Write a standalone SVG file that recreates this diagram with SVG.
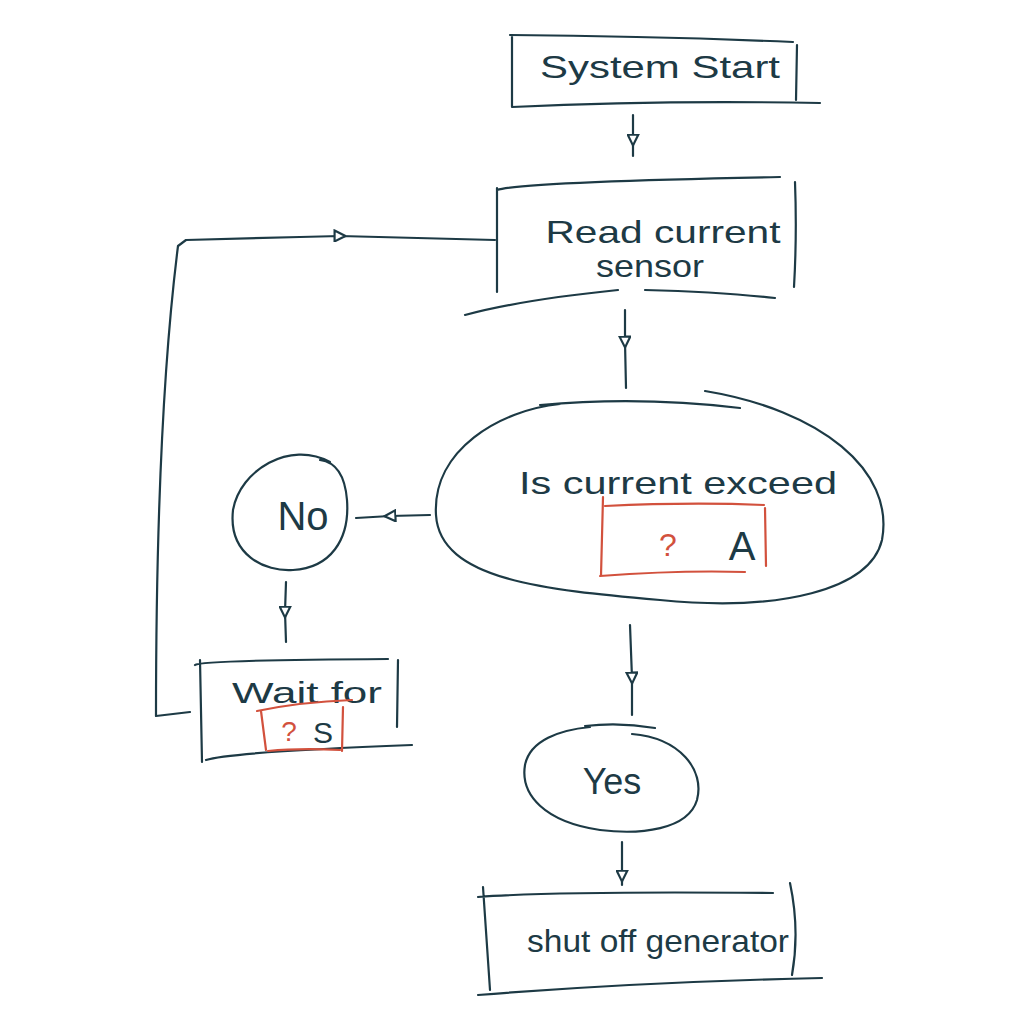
<svg xmlns="http://www.w3.org/2000/svg" width="1024" height="1024" viewBox="0 0 1024 1024">
<defs>
<style>
.s{fill:none;stroke:#1d3a45;stroke-width:2.2;stroke-linecap:round;stroke-linejoin:round}
.r{fill:none;stroke:#d2513d;stroke-width:2.2;stroke-linecap:round}
.t{font-family:"Liberation Sans","DejaVu Sans",sans-serif;fill:#1d3a45;font-size:32px;text-anchor:middle}
.q{fill:#d2513d}
</style>
<marker id="ah" viewBox="0 0 12 12" refX="6" refY="6" markerWidth="13" markerHeight="13" markerUnits="userSpaceOnUse" orient="auto">
<path d="M1,1 L11,6 L1,11 Z" fill="#fff" stroke="#1d3a45" stroke-width="2"/>
</marker>
</defs>
<rect width="1024" height="1024" fill="#fff"/>

<g id="connectors">
<path class="s" d="M633,115 L633,140 L633,156" marker-mid="url(#ah)"/>
<path class="s" d="M625,310 L625,342 L626,388" marker-mid="url(#ah)"/>
<path class="s" d="M430,515 L390,516 L356,518" marker-mid="url(#ah)"/>
<path class="s" d="M286,582 L285,612 L286,642" marker-mid="url(#ah)"/>
<path class="s" d="M190,712 L156,716 Q156,420 178,246 L186,240 L300,237"/>
<path class="s" d="M300,237 L340,236 L495,240" marker-mid="url(#ah)"/>
<path class="s" d="M630,625 L632,678 L632,715" marker-mid="url(#ah)"/>
<path class="s" d="M622,842 L622,876 L622,885" marker-mid="url(#ah)"/>
</g>

<g id="system-start">
<path class="s" d="M510,35 Q650,36 793,42 M512,36 L512,107 M512,107 Q660,100 820,103 M797,45 L796,100"/>
<text class="t" x="660" y="78" textLength="240" lengthAdjust="spacingAndGlyphs">System Start</text>
</g>

<g id="read-sensor">
<path class="s" d="M497,190 Q520,182 780,177 M497,188 L497,292 M795,182 Q797,235 794,287 M465,315 Q520,300 618,290 M645,290 Q720,292 775,298"/>
<text class="t" x="663" y="243" textLength="235" lengthAdjust="spacingAndGlyphs">Read current</text>
<text class="t" x="650" y="277" textLength="108" lengthAdjust="spacingAndGlyphs">sensor</text>
</g>

<g id="decision">
<path class="s" d="M540,405 Q640,396 740,408 M705,391 C820,410 895,470 882,540 C870,590 780,612 660,600 C545,590 440,580 436,515 C432,450 500,410 560,404"/>
<text class="t" x="678" y="494" textLength="318" lengthAdjust="spacingAndGlyphs">Is current exceed</text>
<path class="r" d="M605,506 Q690,502 764,505 M603,497 L601,576 M765,508 L766,566 M600,576 Q680,570 745,572"/>
<text class="t q" x="668" y="556">?</text>
<text class="t" x="742" y="560" style="font-size:40px">A</text>
</g>

<g id="no">
<path class="s" d="M330,462 C290,440 240,470 233,510 C228,555 265,572 293,570 C330,568 350,540 347,500 C345,475 335,462 320,460"/>
<text class="t" x="303" y="530" style="font-size:40px">No</text>
</g>

<g id="wait">
<path class="s" d="M195,665 Q200,660 388,659 M200,660 L202,762 M398,660 L397,727 M206,760 Q230,752 412,745"/>
<text class="t" x="307" y="703" textLength="150" lengthAdjust="spacingAndGlyphs" style="font-size:30px">Wait for</text>
<path class="r" d="M257,711 Q300,702 352,700 M261,711 L266,750 M343,707 L342,751 M268,751 Q300,748 340,750"/>
<text class="t q" x="289" y="741" style="font-size:28px">?</text>
<text class="t" x="323" y="743" style="font-size:30px">S</text>
</g>

<g id="yes">
<path class="s" d="M585,726 Q620,722 655,728 M632,734 C680,738 705,770 697,800 C688,830 640,835 600,830 C545,822 520,795 525,765 C530,740 560,730 590,727"/>
<text class="t" x="612" y="794" style="font-size:36px">Yes</text>
</g>

<g id="shutoff">
<path class="s" d="M478,897 Q560,891 773,893 M483,887 L490,990 M790,883 Q800,930 792,975 M478,995 Q640,982 822,978"/>
<text class="t" x="658" y="952" textLength="262" lengthAdjust="spacingAndGlyphs">shut off generator</text>
</g>
</svg>
